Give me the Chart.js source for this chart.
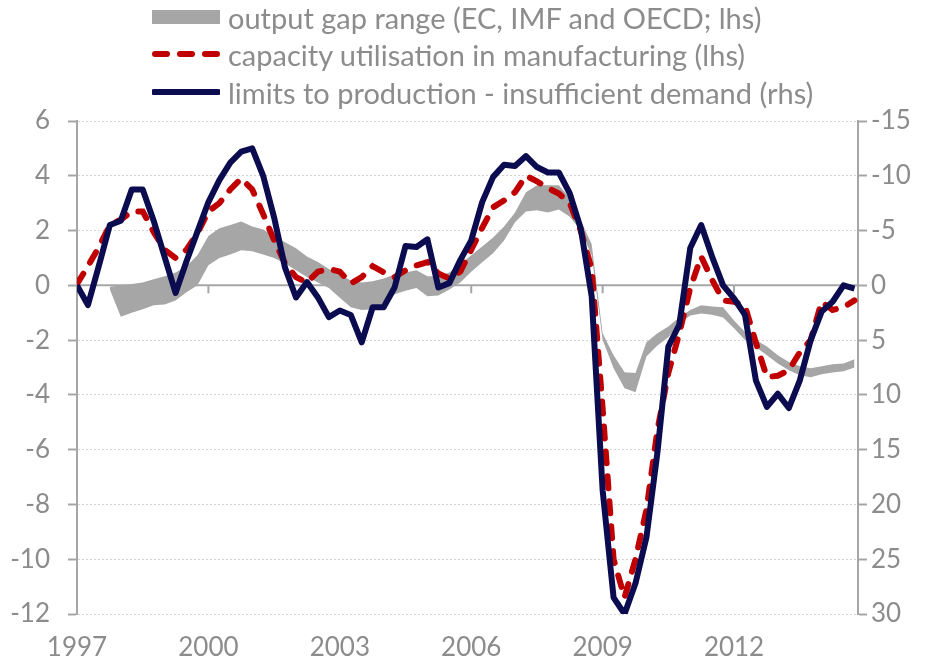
<!DOCTYPE html>
<html>
<head>
<meta charset="utf-8">
<script src="https://cdn.jsdelivr.net/npm/chart.js"></script>
<style>
  body { margin: 0; background: #fff; }
  #wrap { position: relative; width: 925px; height: 661px; }
  .leg { position: absolute; left: 152px; height: 32px; display: flex; align-items: center;
         font-family: Lato, sans-serif; font-size: 29px; color: #8c8c8c; white-space: nowrap; }
  .leg svg { margin-right: 8px; }
</style>
</head>
<body>
<div id="wrap">
  <canvas id="myChart"></canvas>
  <div class="leg" style="top:1px">
    <svg width="68" height="16"><rect x="0" y="1" width="68" height="14" fill="#a6a6a6"/></svg>output gap range (EC, IMF and OECD; lhs)
  </div>
  <div class="leg" style="top:38px">
    <svg width="68" height="16"><line x1="3" y1="8" x2="66" y2="8" stroke="#c00000" stroke-width="6" stroke-linecap="round" stroke-dasharray="12 13"/></svg>capacity utilisation in manufacturing (lhs)
  </div>
  <div class="leg" style="top:76px">
    <svg width="68" height="16"><line x1="2" y1="8" x2="66" y2="8" stroke="#0b0b50" stroke-width="6" stroke-linecap="round"/></svg>limits to production - insufficient demand (rhs)
  </div>
</div>

<script>
    // quarterly categories 1997Q1 .. 2014Q4
    let quarters = [];
    for (let yr = 1997; yr <= 2014; yr++) {
        for (let q = 1; q <= 4; q++) quarters.push(yr + 'Q' + q);
    }
    let yearTicks = [1997, 2000, 2003, 2006, 2009, 2012];

    // output gap range (lhs), lower and upper edge
    let gapLow = [null, null, null, -0.15, -1.15, -1.0, -0.87, -0.73, -0.7, -0.55,
        -0.25, 0.0, 0.73, 1.0, 1.13, 1.28, 1.24, 1.13, 1.0, 0.8,
        0.55, 0.3, 0.1, -0.1, -0.45, -0.8, -0.9, -0.87, -0.65, -0.33,
        -0.2, -0.1, -0.4, -0.37, -0.15, 0.1, 0.5, 0.84, 1.17, 1.64,
        2.3, 2.7, 2.74, 2.66, 2.77, 2.5, 2.0, 1.1, -2.0, -3.03,
        -3.76, -3.9, -2.6, -2.2, -1.9, -1.4, -1.1, -1.03, -1.07, -1.17,
        -1.57, -2.0, -2.26, -2.55, -2.85, -3.1, -3.28, -3.36, -3.25, -3.18,
        -3.14, -3.0];
    let gapHigh = [null, null, null, -0.05, 0.0, 0.05, 0.1, 0.22, 0.33, 0.47,
        0.7, 1.1, 1.8, 2.08, 2.2, 2.33, 2.15, 2.04, 1.8, 1.57,
        1.35, 1.05, 0.85, 0.6, 0.4, 0.18, 0.1, 0.15, 0.25, 0.4,
        0.47, 0.55, 0.33, 0.33, 0.47, 0.77, 1.1, 1.42, 1.75, 2.15,
        2.66, 3.4, 3.65, 3.65, 3.65, 3.2, 2.37, 1.5, -1.75, -2.55,
        -3.17, -3.2, -2.08, -1.75, -1.5, -1.17, -0.9, -0.73, -0.77, -0.8,
        -1.28, -1.7, -2.0, -2.23, -2.55, -2.8, -2.95, -3.03, -2.95, -2.88,
        -2.85, -2.7];

    // capacity utilisation in manufacturing (lhs)
    let capacity = [0.05, 0.7, 1.4, 2.2, 2.4, 2.7, 2.7, 1.95, 1.3, 1.0,
        1.3, 1.9, 2.7, 3.0, 3.5, 3.9, 3.5, 2.6, 1.65, 0.8,
        0.3, 0.1, 0.5, 0.6, 0.5, 0.07, 0.3, 0.7, 0.48, 0.3,
        0.55, 0.73, 0.85, 0.43, 0.25, 0.5, 1.3, 2.1, 2.85, 3.1,
        3.4, 4.0, 3.8, 3.55, 3.35, 3.0, 2.0, 0.6, -4.5, -10.0,
        -11.4, -10.0, -8.2, -5.3, -3.2, -1.75, -0.1, 1.05, 0.2, -0.55,
        -0.6, -0.75, -2.1, -3.35, -3.3, -3.1, -2.45, -2.0, -0.6, -0.9,
        -0.8, -0.55];

    // limits to production - insufficient demand (rhs, inverted)
    let demand = [0, 1.8, -1.8, -5.5, -5.9, -8.75, -8.75, -5.9, -2.6, 0.7,
        -2.2, -4.9, -7.6, -9.6, -11.2, -12.2, -12.5, -10.0, -6.2, -1.6,
        1.1, -0.3, 1.1, 2.9, 2.3, 2.7, 5.2, 2.0, 2.0, 0.2,
        -3.6, -3.5, -4.2, 0.2, -0.2, -2.3, -4.1, -7.6, -9.9, -11.0,
        -10.9, -11.8, -10.8, -10.3, -10.3, -8.4, -5.2, 1.0, 18.7, 28.5,
        30, 27.2, 23, 15.3, 5.6, 3.6, -3.4, -5.5, -2.6, 0,
        1.2, 2.7, 8.7, 11.1, 9.9, 11.2, 8.7, 5.0, 2.4, 1.5,
        0, 0.3];

    let quarterX = quarters.map(s => parseInt(s) + (parseInt(s.slice(5)) - 1) / 4);
    let toXY = arr => arr.map((v, i) => ({ x: quarterX[i], y: v }));

    Chart.defaults.font.family = 'Lato, sans-serif';
    Chart.defaults.font.size = 26;
    Chart.defaults.color = '#8c8c8c';

    // zero line with the year tick marks on it
    const zeroAxis = {
        id: 'zeroAxis',
        beforeDatasetsDraw(chart) {
            const { ctx, chartArea, scales } = chart;
            const y0 = scales.y.getPixelForValue(0);
            ctx.save();
            ctx.strokeStyle = '#a6a6a6';
            ctx.lineWidth = 2;
            ctx.beginPath();
            ctx.moveTo(chartArea.left, y0);
            ctx.lineTo(chartArea.right, y0);
            yearTicks.forEach(v => {
                const px = scales.x.getPixelForValue(v);
                ctx.moveTo(px, y0);
                ctx.lineTo(px, y0 + 8);
            });
            ctx.stroke();
            ctx.restore();
        }
    };

    var ctx = document.getElementById('myChart').getContext('2d');

    var myChart = new Chart(ctx, {
        type: 'line',
        data: {
            datasets: [{
                label: 'gap low',
                data: toXY(gapLow),
                borderWidth: 0,
                borderColor: 'rgba(0,0,0,0)',
                fill: false,
                order: 3
            }, {
                label: 'output gap range (EC, IMF and OECD; lhs)',
                data: toXY(gapHigh),
                borderWidth: 0,
                borderColor: 'rgba(0,0,0,0)',
                backgroundColor: '#a6a6a6',
                fill: '-1',
                order: 2
            }, {
                label: 'capacity utilisation in manufacturing (lhs)',
                data: toXY(capacity),
                borderColor: '#c00000',
                borderWidth: 6,
                borderDash: [12, 13],
                borderCapStyle: 'round',
                fill: false,
                order: 1
            }, {
                label: 'limits to production - insufficient demand (rhs)',
                data: toXY(demand),
                yAxisID: 'y2',
                borderColor: '#0b0b50',
                borderWidth: 6,
                borderJoinStyle: 'round',
                fill: false,
                order: 0
            }]
        },
        options: {
            responsive: true,
            maintainAspectRatio: false,
            animation: false,
            layout: { padding: { top: 121, left: 0, right: 0, bottom: 0 } },
            elements: { point: { radius: 0 }, line: { tension: 0 } },
            plugins: { legend: { display: false }, tooltip: { enabled: false } },
            scales: {
                x: {
                    type: 'linear',
                    min: 1997,
                    max: 2014.83,
                    afterBuildTicks: s => { s.ticks = yearTicks.map(v => ({ value: v })); },
                    afterFit: s => { s.height = 47; },
                    grid: { display: false, drawTicks: false },
                    border: { display: false },
                    ticks: { padding: 18, maxRotation: 0, autoSkip: false, callback: v => String(v) }
                },
                y: {
                    position: 'left',
                    min: -12,
                    max: 6,
                    afterFit: s => { s.width = 77; },
                    ticks: { stepSize: 2, padding: 18 },
                    grid: {
                        color: c => c.tick && c.tick.value === 0 ? 'rgba(0,0,0,0)' : '#d4d4d4',
                        lineWidth: 1,
                        tickLength: 9,
                        tickColor: '#a6a6a6',
                        tickWidth: 2
                    },
                    border: { display: true, color: '#a6a6a6', width: 2, dash: [2, 2] }
                },
                y2: {
                    position: 'right',
                    min: -15,
                    max: 30,
                    reverse: true,
                    afterFit: s => { s.width = 67; },
                    ticks: { stepSize: 5, padding: 4 },
                    grid: {
                        drawOnChartArea: false,
                        tickLength: 9,
                        tickColor: '#a6a6a6',
                        tickWidth: 2
                    },
                    border: { display: true, color: '#a6a6a6', width: 2 }
                }
            }
        },
        plugins: [zeroAxis]
    });
</script>
</body>
</html>
